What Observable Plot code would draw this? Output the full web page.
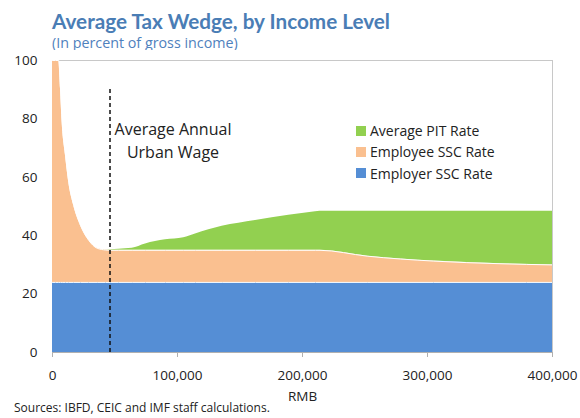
<!DOCTYPE html>
<html>
<head>
<meta charset="utf-8">
<script src="https://cdn.jsdelivr.net/npm/d3@7"></script>
<script src="https://cdn.jsdelivr.net/npm/@observablehq/plot@0.6"></script>
<style>
  html, body { margin: 0; padding: 0; background: #fff; }
  #wrap { position: relative; width: 580px; height: 418px; overflow: hidden; font-family: "Open Sans", sans-serif; }
  #title { position: absolute; left: 52px; top: 8.5px; font-family: Lato, sans-serif; font-weight: 700; font-size: 20.7px; color: #4a7db5; white-space: nowrap; }
  #subtitle { position: absolute; left: 52px; top: 33px; font-family: "Open Sans", sans-serif; font-size: 14.3px; color: #4f81bd; white-space: nowrap; }
  #chart { position: absolute; left: 0; top: 50px; }
  #caption { position: absolute; left: 14px; top: 400px; font-size: 12px; line-height: 15px; color: #222; white-space: nowrap; }
  #legend { position: absolute; left: 356px; top: 120px; font-size: 14px; color: #222; }
  #legend .row { display: flex; align-items: center; height: 21.3px; }
  #legend .sw { width: 10px; height: 10px; margin-right: 4px; }
</style>
</head>
<body>
<div id="wrap">
  <div id="title">Average Tax Wedge, by Income Level</div>
  <div id="subtitle">(In percent of gross income)</div>
  <div id="chart"></div>
  <div id="legend"></div>
  <div id="caption">Sources: IBFD, CEIC and IMF staff calculations.</div>
</div>
<script>
// Income levels (RMB)
const income = [0, 5000, 6400, 7700, 10400, 13000, 17000, 22400, 29000, 35700, 42400, 46400, 53000, 63700, 74400, 90400, 105000, 114400, 135700, 162400, 189000, 210400, 214000, 251700, 305000, 358000, 400000];
// Employer SSC rate (%)
const employerSSC = [24, 24, 24, 24, 24, 24, 24, 24, 24, 24, 24, 24, 24, 24, 24, 24, 24, 24, 24, 24, 24, 24, 24, 24, 24, 24, 24];
// Employee SSC rate (%)
const employeeSSC = [76, 76, 66.3, 54.9, 43.5, 34.3, 26.3, 19.5, 14.4, 11.7, 11.1, 11, 11, 11, 11, 11, 11, 11, 11, 11, 11, 11, 11, 9.0, 7.3, 6.4, 6.0];
// Average PIT rate (%)
const pitRate = [0, 0, 0, 0, 0, 0, 0, 0, 0, 0, 0, 0.2, 0.4, 0.7, 2.2, 3.6, 4.3, 5.6, 8.2, 10.2, 12.0, 13.2, 13.4, 15.4, 17.1, 18.0, 18.4];

const seriesNames = ["Average PIT Rate", "Employee SSC Rate", "Employer SSC Rate"];
const seriesColors = ["#92d050", "#fac090", "#558ed5"];
const avgUrbanWage = [46000];
const annotation = ["Average Annual\nUrban Wage"];
const xTicks = [0, 100000, 200000, 300000, 400000];
const yTicks = [0, 20, 40, 60, 80, 100];

// Build stacked table (bottom to top: employer, employee, PIT)
const rows = [];
income.forEach((x, i) => {
  const a = employerSSC[i], b = employeeSSC[i], c = pitRate[i];
  rows.push({x, series: "Employer SSC Rate", lo: 0, hi: a});
  rows.push({x, series: "Employee SSC Rate", lo: a, hi: a + b});
  rows.push({x, series: "Average PIT Rate", lo: a + b, hi: a + b + c});
});
const colorOf = Object.fromEntries(seriesNames.map((s, i) => [s, seriesColors[i]]));

const fmt = d3.format(",");
const chart = Plot.plot({
  width: 580,
  height: 355,
  marginLeft: 52,
  marginRight: 28,
  marginTop: 10,
  marginBottom: 53,
  style: { fontFamily: "'Open Sans', sans-serif", fontSize: "13px", color: "#222", background: "white" },
  x: { domain: [0, 400000], ticks: xTicks, tickFormat: fmt },
  y: { domain: [0, 100], ticks: yTicks },
  marks: [
    Plot.frame({ stroke: "#c8c8c8" }),
    Plot.areaY(rows, { x: "x", y1: "lo", y2: "hi", z: "series", fill: d => colorOf[d.series], curve: "monotone-x", clip: true }),
    Plot.lineY(rows.filter(d => d.series !== "Average PIT Rate"), { x: "x", y: "hi", z: "series", stroke: "white", strokeWidth: 1, curve: "monotone-x", clip: true }),
    Plot.ruleY([0], { stroke: "#b0b0b0" }),
    Plot.ruleX(avgUrbanWage, { x: d => d, y1: 0, y2: 91, stroke: "#111", strokeWidth: 1.5, strokeDasharray: "4,3" }),
    Plot.text(annotation, { x: avgUrbanWage[0], y: 73, text: d => d, dx: 63, fontSize: 16, lineHeight: 1.4, textAnchor: "middle", fill: "#222" }),
    Plot.axisX({ ticks: xTicks, tickFormat: fmt, tickSize: 5, tickPadding: 13, stroke: "#b0b0b0", fill: "#222", fontSize: 13.5, label: "RMB", labelAnchor: "center", labelArrow: "none", labelOffset: 48 }),
    Plot.axisY({ ticks: yTicks, tickSize: 0, tickPadding: 15, fontSize: 13.5, fill: "#222", label: null })
  ]
});
document.getElementById("chart").appendChild(chart);

const legend = document.getElementById("legend");
seriesNames.forEach((s, i) => {
  const row = document.createElement("div");
  row.className = "row";
  const sw = document.createElement("span");
  sw.className = "sw";
  sw.style.background = seriesColors[i];
  const t = document.createElement("span");
  t.textContent = s;
  row.appendChild(sw);
  row.appendChild(t);
  legend.appendChild(row);
});
</script>
</body>
</html>
